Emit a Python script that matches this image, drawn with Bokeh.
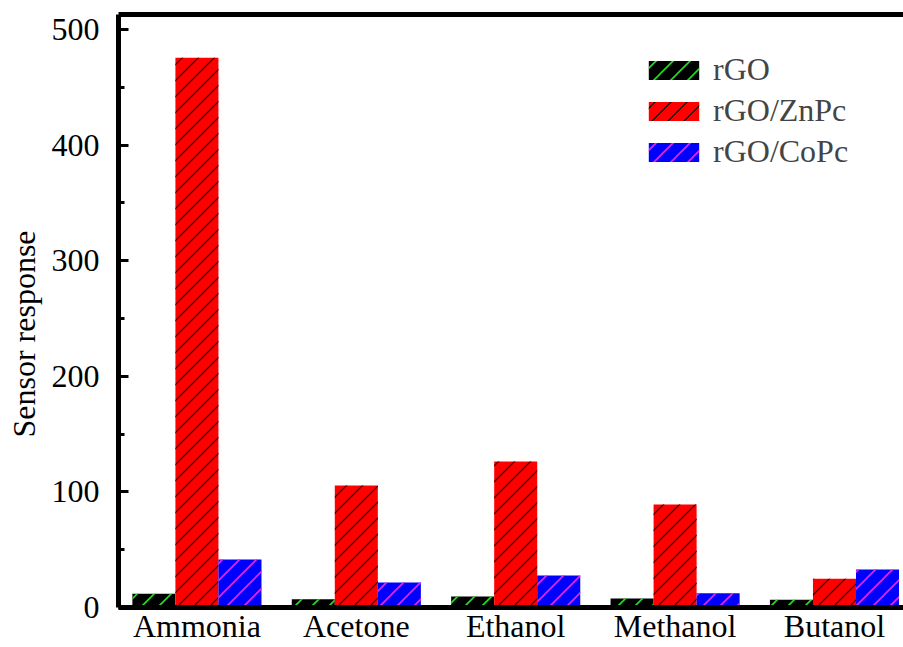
import base64
from bokeh.plotting import figure
from bokeh.models import (LinearAxis, SingleIntervalTicker, FixedTicker, Range1d,
                          ColumnDataSource, Legend, Title, ImageURLTexture)
from bokeh.core.properties import value
from bokeh.transform import dodge
from bokeh.embed import file_html
from bokeh.resources import INLINE

# ---- data ----
categories = ["Ammonia", "Acetone", "Ethanol", "Methanol", "Butanol"]
rgo = [11.8, 7.2, 9.5, 7.8, 6.7]
rgo_znpc = [475.5, 105.5, 126.3, 89.0, 24.8]
rgo_copc = [41.5, 21.6, 27.7, 12.4, 32.9]
series_names = ["rGO", "rGO/ZnPc", "rGO/CoPc"]
y_label = "Sensor response"

FONT = "Liberation Serif"
idx = list(range(len(categories)))
bw = 0.27


def diag_texture(color, size, width):
    s = size
    svg = (f"<svg xmlns='http://www.w3.org/2000/svg' width='{s}' height='{s}'>"
           f"<path d='M{-s},{2*s} L{2*s},{-s} M{-s},{s} L{s},{-s} M0,{2*s} L{2*s},0' "
           f"stroke='{color}' stroke-width='{width}' fill='none'/></svg>")
    url = "data:image/svg+xml;base64," + base64.b64encode(svg.encode()).decode()
    return ImageURLTexture(url=url)


p = figure(width=903, height=647, output_backend="svg", toolbar_location=None,
           x_range=Range1d(-0.492, 4.433), y_range=Range1d(0, 513),
           x_axis_type=None, y_axis_type=None,
           min_border_left=117, min_border_right=0, min_border_top=14,
           min_border_bottom=40)
p.outline_line_color = None
p.xgrid.visible = False
p.ygrid.visible = False

src = ColumnDataSource(dict(x=idx, rgo=rgo, znpc=rgo_znpc, copc=rgo_copc))

r1 = p.vbar(x=dodge("x", -bw, range=p.x_range), top="rgo", width=bw, source=src,
            fill_color="black", line_color=None,
            hatch_pattern=value("dg"), hatch_extra={"dg": diag_texture("#22DD22", 17, 1.6)})
r2 = p.vbar(x=dodge("x", 0, range=p.x_range), top="znpc", width=bw, source=src,
            fill_color="#FF0000", line_color=None,
            hatch_pattern=value("dk"), hatch_extra={"dk": diag_texture("#000000", 16, 1.1)})
r3 = p.vbar(x=dodge("x", bw, range=p.x_range), top="copc", width=bw, source=src,
            fill_color="#0000FF", line_color=None,
            hatch_pattern=value("dm"), hatch_extra={"dm": diag_texture("#EE22EE", 17, 1.6)})

# left axis
yax = LinearAxis(ticker=SingleIntervalTicker(interval=100, num_minor_ticks=2))
yax.axis_line_width = 5
yax.major_tick_in = 10
yax.major_tick_out = 0
yax.major_tick_line_width = 3
yax.minor_tick_in = 6
yax.minor_tick_out = 0
yax.minor_tick_line_width = 3
yax.major_label_standoff = 19
yax.major_label_text_font = FONT
yax.major_label_text_font_size = "32px"
yax.major_label_text_color = "black"
p.add_layout(yax, "left")

# bottom axis with category labels
xax = LinearAxis(ticker=FixedTicker(ticks=idx),
                 major_label_overrides={i: c for i, c in zip(idx, categories)})
xax.axis_line_width = 5
xax.major_tick_in = 0
xax.major_tick_out = 0
xax.minor_tick_in = 0
xax.minor_tick_out = 0
xax.major_label_standoff = 0
xax.major_label_text_font = FONT
xax.major_label_text_font_size = "32px"
xax.major_label_text_color = "black"
p.add_layout(xax, "below")

# top frame line
tax = LinearAxis(ticker=FixedTicker(ticks=[]))
tax.axis_line_width = 5
tax.major_tick_in = 0
tax.major_tick_out = 0
tax.minor_tick_in = 0
tax.minor_tick_out = 0
tax.major_label_standoff = 0
p.add_layout(tax, "above")

# y-axis title
ytitle = Title(text=y_label, align="left", offset=170, vertical_align="top",
               text_font=FONT, text_font_size="32px", text_font_style="normal",
               text_color="black")
p.add_layout(ytitle, "left")

legend = Legend(items=[(series_names[0], [r1]), (series_names[1], [r2]), (series_names[2], [r3])],
                location=(524, 437))
legend.border_line_color = None
legend.background_fill_alpha = 0
legend.padding = 0
legend.margin = 0
legend.glyph_width = 63
legend.glyph_height = 24
legend.label_standoff = 8
legend.spacing = 4
legend.label_text_font = FONT
legend.label_text_font_size = "32px"
legend.label_text_baseline = "middle"
p.add_layout(legend)

open("out.html", "w").write(file_html(p, INLINE))
